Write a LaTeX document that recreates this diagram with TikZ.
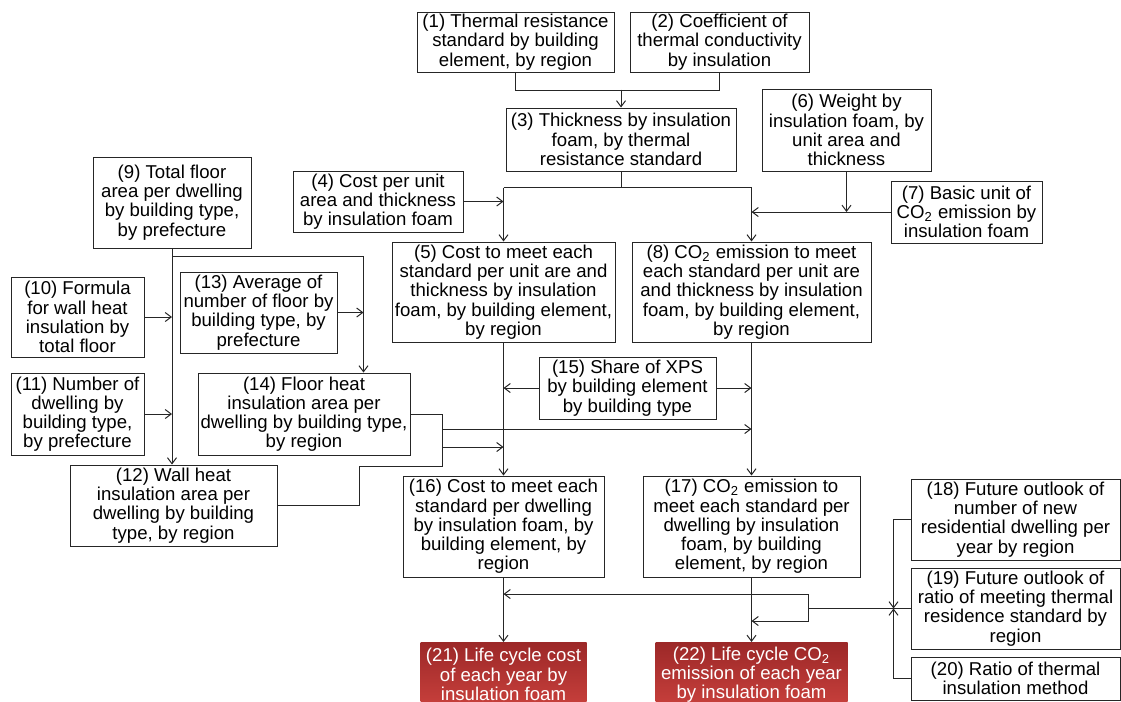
\documentclass[tikz,border=0pt]{standalone}
\usepackage{fontspec}
\setmainfont{Liberation Sans}
\usepackage{xcolor}
\usetikzlibrary{arrows.meta,positioning}
\definecolor{lcred}{RGB}{156,40,40}
\definecolor{lcredlow}{RGB}{200,64,60}

\begin{document}
\begin{tikzpicture}[x=0.5pt, y=-0.5pt,
  box/.style 2 args={rectangle, draw=black!85, line width=0.5pt, fill=white, align=center, inner sep=1pt, minimum width=#1*0.5pt, minimum height=#2*0.5pt, font=\fontsize{9.3}{9.6}\selectfont},
  result/.style 2 args={box={#1}{#2}, draw=none, top color=lcred, bottom color=lcredlow, text=white},
  line/.style={line width=0.5pt, black!85},
  arrow/.style={line, -{Straight Barb[length=3pt,width=4.5pt]}}
]
\clip (0,0) rectangle (1121,702);

% Standards and thickness
\node[box={197}{60}] (n1) at (515.5,42) {(1) Thermal resistance\\standard by building\\element, by region};
\node[box={179}{60}] (n2) at (719.5,42) {(2) Coefficient of\\thermal conductivity\\by insulation};
\node[box={230}{63}] (n3) at (621,139.5) {(3) Thickness by insulation\\foam, by thermal\\resistance standard};
\node[box={170}{61}] (n4) at (378,201.5) {(4) Cost per unit\\area and thickness\\by insulation foam};
\node[box={169}{82}] (n6) at (846.5,130) {(6) Weight by\\insulation foam, by\\unit area and\\thickness};
\node[box={151}{62}] (n7) at (966.5,212) {(7) Basic unit of\\CO\textsubscript{2} emission by\\insulation foam};

% Per unit area
\node[box={223}{100}] (n5) at (503.5,292) {(5) Cost to meet each\\standard per unit are and\\thickness by insulation\\foam, by building element,\\by region};
\node[box={239}{100}] (n8) at (751.5,292) {(8) CO\textsubscript{2} emission to meet\\each standard per unit are\\and thickness by insulation\\foam, by building element,\\by region};

% Dwelling areas
\node[box={158}{91}] (n9) at (172,202.5) {(9) Total floor\\area per dwelling\\by building type,\\by prefecture};
\node[box={133}{80}] (n10) at (77.5,317) {(10) Formula\\for wall heat\\insulation by\\total floor};
\node[box={157}{81}] (n13) at (258.5,312.5) {(13) Average of\\number of floor by\\building type, by\\prefecture};
\node[box={133}{82}] (n11) at (77.5,414) {(11) Number of\\dwelling by\\building type,\\by prefecture};
\node[box={212}{82}] (n14) at (304,414) {(14) Floor heat\\insulation area per\\dwelling by building type,\\by region};
\node[box={207}{81}] (n12) at (173.5,505.5) {(12) Wall heat\\insulation area per\\dwelling by building\\type, by region};
\node[box={177}{62}] (n15) at (627.5,388) {(15) Share of XPS\\by building element\\by building type};

% Per dwelling
\node[box={201}{101}] (n16) at (503.5,526.5) {(16) Cost to meet each\\standard per dwelling\\by insulation foam, by\\building element, by\\region};
\node[box={217}{101}] (n17) at (751.5,526.5) {(17) CO\textsubscript{2} emission to\\meet each standard per\\dwelling by insulation\\foam, by building\\element, by region};

% Future outlook
\node[box={209}{81}] (n18) at (1015.5,519.5) {(18) Future outlook of\\number of new\\residential dwelling per\\year by region};
\node[box={209}{81}] (n19) at (1015.5,608.5) {(19) Future outlook of\\ratio of meeting thermal\\residence standard by\\region};
\node[box={209}{43}] (n20) at (1015.5,678.5) {(20) Ratio of thermal\\insulation method};

% Life cycle results
\node[result={166}{64}, anchor=north] (n21) at (503.5,642) {(21) Life cycle cost\\of each year by\\insulation foam};
\node[result={192}{64}, anchor=north] (n22) at (751.5,642) {(22) Life cycle CO\textsubscript{2}\\emission of each year\\by insulation foam};

% Connections at the top
\draw[line] (n1.south) -- ++(0,18) -| (n2.south);
\draw[arrow] (n3.north) ++(0,-18) -- (n3.north);
\draw[line] (n3.south) -- ++(0,16) coordinate (j3);
\draw[line] (n5.north |- j3) -- (n8.north |- j3);
\draw[arrow] (n5.north |- j3) -- (n5.north);
\draw[arrow] (n8.north |- j3) -- (n8.north);
\draw[arrow] (n4.east) -- (n5.north |- n4.east);
\draw[arrow] (n7.west) -- (n8.north |- n7.west);
\draw[arrow] (n6.south) -- (n6.south |- n7.west);

% Connections on the left
\coordinate (c13) at ([xshift=13pt]n13.east);
\draw[arrow] (n9.south) -- ++(0,8) -| (n14.north -| c13);
\draw[arrow] (n13.east) -- (c13);
\draw[arrow] (n9.south) -- (n9.south |- n12.north);
\draw[arrow] (n10.east) -- (n9.south |- n10.east);
\draw[arrow] (n11.east) -- (n9.south |- n11.east);
\draw[line] (n14.east) -- ++(32,0) coordinate (c14) -- ++(0,52) coordinate (c14b);
\draw[line] (n12.east) -- ++(82,0) |- (c14b);
\path (c14) ++(0,15) coordinate (c14a) ++(0,18) coordinate (c14c);
\draw[arrow] (c14a) -- (c14a -| n17.north);
\draw[arrow] (c14c) -- (c14c -| n16.north);

% Columns
\draw[arrow] (n5.south) -- (n16.north);
\draw[arrow] (n8.south) -- (n17.north);
\draw[arrow] (n15.west) -- (n5.south |- n15.west);
\draw[arrow] (n15.east) -- (n8.south |- n15.east);
\draw[arrow] (n16.south) -- (n21.north);
\draw[arrow] (n17.south) -- (n22.north);

% Connections on the right
\coordinate (bus) at ([xshift=-8.5pt]n19.west);
\draw[arrow] (n18.west) -| (bus);
\draw[arrow] (n20.west) -| (bus);
\draw[line] (n19.west) -- (bus) -- ++(-85,0) coordinate (c19);
\path (c19) ++(0,-14.5) coordinate (c19a) ++(0,27) coordinate (c19b);
\draw[line] (c19a) -- (c19b);
\draw[arrow] (c19a) -- (c19a -| n16.south);
\draw[arrow] (c19b) -- (c19b -| n17.south);

\end{tikzpicture}
\end{document}
